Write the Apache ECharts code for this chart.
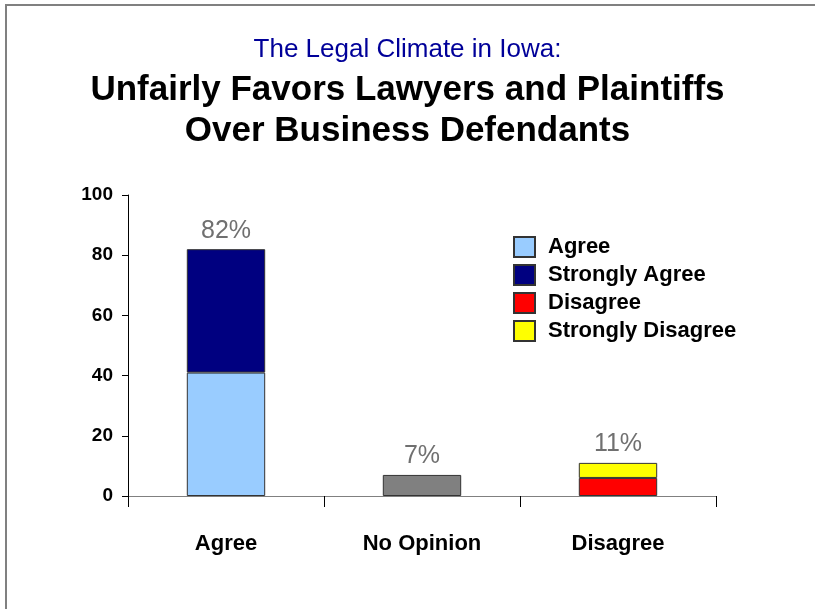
<!DOCTYPE html>
<html>
<head>
<meta charset="utf-8">
<script src="https://cdn.jsdelivr.net/npm/echarts@6/dist/echarts.min.js"></script>
<style>
  html, body { margin: 0; padding: 0; background: #fff; }
  #main { width: 815px; height: 609px; }
</style>
</head>
<body>
<div id="main"></div>
<script>
var categories = ['Agree', 'No Opinion', 'Disagree'];
var agree = [41, '-', '-'];
var stronglyAgree = [41, '-', '-'];
var noOpinion = ['-', 7, '-'];
var disagree = ['-', '-', 6];
var stronglyDisagree = ['-', '-', 5];
var totals = [82, 7, 11];
var legendNames = ['Agree', 'Strongly Agree', 'Disagree', 'Strongly Disagree'];

var sans = '"Liberation Sans", Arial, sans-serif';

var chart = echarts.init(document.getElementById('main'));

// percent total above the top segment of each column
var totalLabel = {
  show: true,
  position: 'top',
  distance: 6,
  color: '#707070',
  fontFamily: sans,
  fontSize: 25,
  formatter: function (p) { return totals[p.dataIndex] + '%'; }
};

function bar(name, data, color, label) {
  return {
    name: name,
    type: 'bar',
    stack: 'total',
    barWidth: '40%',
    data: data,
    itemStyle: { color: color, borderColor: '#333', borderWidth: 1 },
    label: label || { show: false },
    emphasis: { disabled: true }
  };
}

var option = {
  animation: false,
  backgroundColor: '#fff',
  title: [
    {
      text: 'The Legal Climate in Iowa:',
      left: 'center',
      top: 32,
      textStyle: { color: '#000099', fontFamily: sans, fontWeight: 'normal', fontSize: 26 }
    },
    {
      text: 'Unfairly Favors Lawyers and Plaintiffs\nOver Business Defendants',
      left: 'center',
      top: 65,
      textStyle: { color: '#000', fontFamily: sans, fontWeight: 'bold', fontSize: 35, lineHeight: 41 }
    }
  ],
  legend: {
    data: legendNames,
    orient: 'vertical',
    left: 508,
    top: 231,
    itemWidth: 21,
    itemHeight: 20,
    itemGap: 6,
    icon: 'rect',
    textStyle: { color: '#000', fontFamily: sans, fontWeight: 'bold', fontSize: 22, padding: [0, 0, 0, 8] }
  },
  grid: { left: 128, right: 99, top: 195, bottom: 113 },
  xAxis: {
    type: 'category',
    data: categories,
    axisLine: { lineStyle: { color: '#808080', width: 1 } },
    axisTick: { show: true, length: 11, lineStyle: { color: '#000' } },
    axisLabel: { interval: 0, color: '#000', fontFamily: sans, fontWeight: 'bold', fontSize: 22, margin: 37 }
  },
  yAxis: {
    type: 'value',
    min: 0,
    max: 100,
    interval: 20,
    axisLine: { show: true, lineStyle: { color: '#000', width: 1 } },
    axisTick: { show: true, length: 6, lineStyle: { color: '#000' } },
    splitLine: { show: false },
    axisLabel: { color: '#000', fontFamily: sans, fontWeight: 'bold', fontSize: 19, margin: 15 }
  },
  graphic: [
    { type: 'line', shape: { x1: 5, y1: 5, x2: 815, y2: 5 }, style: { stroke: '#808080', lineWidth: 2 } },
    { type: 'line', shape: { x1: 6, y1: 4, x2: 6, y2: 609 }, style: { stroke: '#808080', lineWidth: 2 } }
  ],
  series: [
    bar('Agree', agree, '#99CCFF'),
    bar('Strongly Agree', stronglyAgree, '#000080', totalLabel),
    bar('No Opinion', noOpinion, '#808080', totalLabel),
    bar('Disagree', disagree, '#FF0000'),
    bar('Strongly Disagree', stronglyDisagree, '#FFFF00', totalLabel)
  ]
};

chart.setOption(option);
</script>
</body>
</html>
